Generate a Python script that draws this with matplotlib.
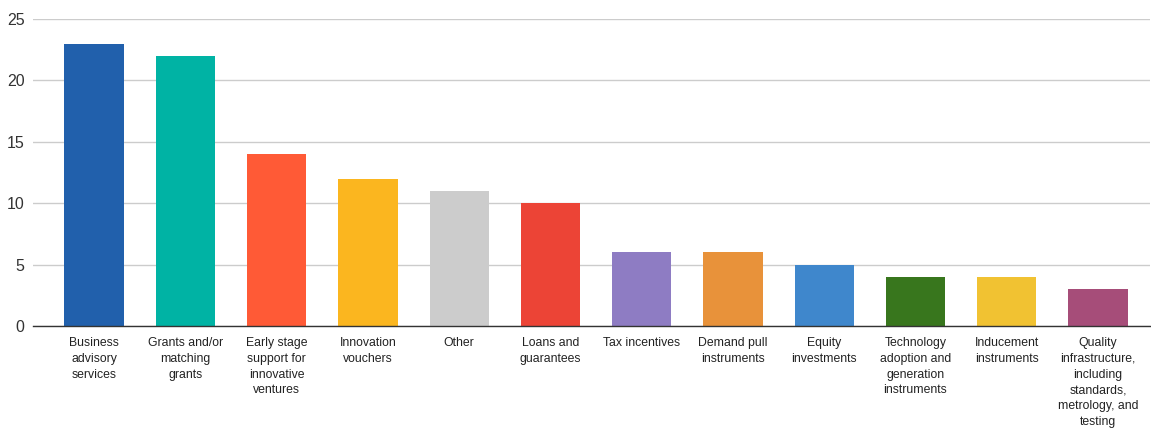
import numpy as np
import matplotlib.pyplot as plt

plt.rcParams['font.family'] = ['Liberation Sans', 'DejaVu Sans']

categories = [
    "Business\nadvisory\nservices",
    "Grants and/or\nmatching\ngrants",
    "Early stage\nsupport for\ninnovative\nventures",
    "Innovation\nvouchers",
    "Other",
    "Loans and\nguarantees",
    "Tax incentives",
    "Demand pull\ninstruments",
    "Equity\ninvestments",
    "Technology\nadoption and\ngeneration\ninstruments",
    "Inducement\ninstruments",
    "Quality\ninfrastructure,\nincluding\nstandards,\nmetrology, and\ntesting",
]
counts = [23, 22, 14, 12, 11, 10, 6, 6, 5, 4, 4, 3]
colors = ["#2160AC", "#00B3A4", "#FF5A36", "#FBB61F", "#CCCCCC", "#EC4436",
          "#8E7CC3", "#E8923A", "#3F87CC", "#38761D", "#F1C232", "#A64D79"]

fig = plt.figure(figsize=(11.51, 4.30), dpi=100)
ax = fig.add_axes([33 / 1151, 1 - 326 / 430, 1117 / 1151, 307 / 430])

x = np.arange(len(categories))
ax.bar(x, counts, width=0.65, color=colors, zorder=3)

ax.set_xlim(-0.67, 11.57)
ax.set_ylim(0, 25)
ax.set_yticks([0, 5, 10, 15, 20, 25])
ax.yaxis.grid(True, color="#cccccc", linewidth=1, zorder=0)

ax.set_xticks(x)
ax.set_xticklabels(categories, fontsize=8.8, color="#222222", linespacing=1.42,
                   ha="center", va="top")
ax.tick_params(axis="x", length=0, pad=8)
ax.tick_params(axis="y", length=0, pad=6, labelsize=11.5, labelcolor="#333333")

for side in ["top", "right", "left"]:
    ax.spines[side].set_visible(False)
ax.spines["bottom"].set_color("#333333")
ax.spines["bottom"].set_linewidth(1)
ax.spines["bottom"].set_zorder(4)

fig.savefig("out.png", dpi=100)
